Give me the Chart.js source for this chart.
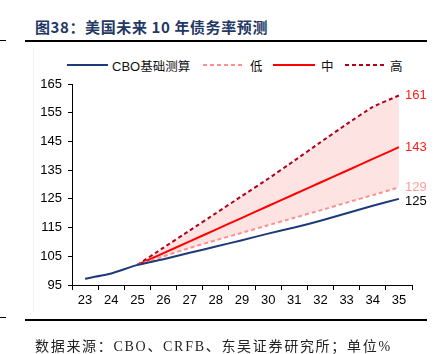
<!DOCTYPE html>
<html>
<head>
<meta charset="utf-8">
<script src="https://cdn.jsdelivr.net/npm/chart.js@4.4.1/dist/chart.umd.min.js"></script>
<style>
  html, body { margin: 0; padding: 0; background: #fff; }
  body { width: 439px; height: 354px; position: relative; overflow: hidden; font-family: 'Liberation Sans', Arial, sans-serif; }
  #chartBox { position: absolute; left: 0; top: 0; width: 439px; height: 354px; }
  .title { position: absolute; left: 35px; top: 16px; font: bold 15px 'Noto Sans CJK SC', serif; color: #1f3864; letter-spacing: 0.6px; white-space: nowrap; }
  .rule { position: absolute; background: #000; }
  .frame { position: absolute; left: 33px; top: 47px; width: 1px; height: 266px; background: #f1f1f1; }
  .source { position: absolute; left: 35px; top: 335px; font: 14px 'Liberation Serif', 'Noto Sans CJK SC', serif; color: #222; white-space: nowrap; letter-spacing: 1.7px; }
  .legend { position: absolute; top: 57px; left: 0; height: 16px; width: 439px; font-size: 13px; color: #111; }
  .legend svg { position: absolute; top: 0; }
  .legend span { position: absolute; top: -1px; white-space: nowrap; }
  .legend .cn { font-family: 'Noto Sans CJK SC', sans-serif; font-size: 12.5px; }
</style>
</head>
<body>
<div class="title">图38：美国未来 10 年债务率预测</div>
<div class="rule" style="left:0;top:40px;width:6px;height:1px;"></div>
<div class="rule" style="left:25px;top:40px;width:402px;height:2px;"></div>
<div class="frame"></div>

<div class="legend">
  <svg style="left:67px" width="41" height="16"><line x1="0" y1="8" x2="41" y2="8" stroke="#1f3a78" stroke-width="2"/></svg>
  <span style="left:112px">CBO<span class="cn" style="position:static">基础测算</span></span>
  <svg style="left:203px" width="42" height="16"><line x1="0" y1="8" x2="42" y2="8" stroke="#ff8f8f" stroke-width="2" stroke-dasharray="4,3"/></svg>
  <span class="cn" style="left:250px">低</span>
  <svg style="left:273px" width="42" height="16"><line x1="0" y1="8" x2="42" y2="8" stroke="#ff0000" stroke-width="2"/></svg>
  <span class="cn" style="left:321px">中</span>
  <svg style="left:345px" width="41" height="16"><line x1="0" y1="8" x2="41" y2="8" stroke="#b0001a" stroke-width="2" stroke-dasharray="4,3"/></svg>
  <span class="cn" style="left:390px">高</span>
</div>

<div id="chartBox"><canvas id="debtChart"></canvas></div>

<div class="rule" style="left:0;top:317px;width:6px;height:1px;"></div>
<div class="rule" style="left:25px;top:319px;width:402px;height:2px;"></div>
<div class="source">数据来源：CBO、CRFB、东吴证券研究所；单位%</div>

<script>
/* ── data (debt / GDP, %) ── */
const years = ['23', '24', '25', '26', '27', '28', '29', '30', '31', '32', '33', '34', '35'];
const cboBase = [97.2, 99.0, 102.0, 104.0, 106.2, 108.4, 110.6, 112.9, 115.0, 117.4, 120.0, 122.6, 125.0];
const lowCase = [null, null, 102.0, 105.0, 107.9, 110.6, 113.2, 115.8, 118.4, 121.0, 123.7, 126.3, 129.0];
const midCase = [null, null, 102.0, 106.1, 110.2, 114.3, 118.4, 122.5, 126.6, 130.7, 134.8, 138.9, 143.0];
const highCase = [null, null, 102.0, 108.0, 114.0, 120.0, 126.0, 132.0, 138.3, 144.7, 151.0, 157.0, 161.0];
const yTicks = { min: 95, max: 165, step: 10 };

// end-of-line value labels
const endLabels = {
    id: 'endLabels',
    afterDatasetsDraw(chart) {
        const { ctx } = chart;
        ctx.save();
        ctx.font = '13px "Liberation Sans", Arial, sans-serif';
        ctx.textAlign = 'left';
        ctx.textBaseline = 'middle';
        chart.data.datasets.forEach((ds, i) => {
            const meta = chart.getDatasetMeta(i);
            const pt = meta.data[meta.data.length - 1];
            if (!pt) return;
            ctx.fillStyle = ds.labelColor;
            ctx.fillText(Math.round(ds.data[ds.data.length - 1]), pt.x + 6, pt.y + (ds.labelShift || 0));
        });
        ctx.restore();
    }
};

const ctx = document.getElementById('debtChart');
new Chart(ctx, {
    type: 'line',
    data: {
        labels: years,
        datasets: [
            {
                label: 'CBO基础测算',
                data: cboBase,
                borderColor: '#1f3a78',
                borderWidth: 2,
                labelColor: '#000',
                labelShift: 3
            },
            {
                label: '低',
                data: lowCase,
                borderColor: '#ff8f8f',
                borderDash: [4, 3],
                borderWidth: 2,
                labelColor: '#ff9b9b'
            },
            {
                label: '中',
                data: midCase,
                borderColor: '#ff0000',
                borderWidth: 2,
                labelColor: '#ff1a1a'
            },
            {
                label: '高',
                data: highCase,
                borderColor: '#b0001a',
                borderDash: [4, 3],
                borderWidth: 2,
                labelColor: '#ff1a1a',
                fill: { target: 1 },
                backgroundColor: 'rgba(250,60,60,0.14)'
            }
        ]
    },
    options: {
        responsive: true,
        maintainAspectRatio: false,
        animation: false,
        layout: { padding: { top: 84, right: 27, bottom: 44, left: 0 } },
        elements: { point: { radius: 0 }, line: { tension: 0.15 } },
        plugins: { legend: { display: false }, tooltip: { enabled: false } },
        scales: {
            x: {
                offset: true,
                grid: { display: true, drawOnChartArea: false, offset: true, tickLength: 5, color: '#000' },
                border: { display: true, color: '#000', width: 1 },
                ticks: { color: '#000', font: { size: 13, family: '"Liberation Sans", Arial' }, padding: 3, maxRotation: 0 },
                afterFit: s => { s.height = 25; }
            },
            y: {
                min: yTicks.min,
                max: yTicks.max,
                grid: { display: true, drawOnChartArea: false, tickLength: 4, color: '#000' },
                border: { display: true, color: '#000', width: 1 },
                ticks: { stepSize: yTicks.step, color: '#000', font: { size: 13, family: '"Liberation Sans", Arial' }, padding: 6 },
                afterFit: s => { s.width = 72; }
            }
        }
    },
    plugins: [endLabels]
});
</script>
</body>
</html>
